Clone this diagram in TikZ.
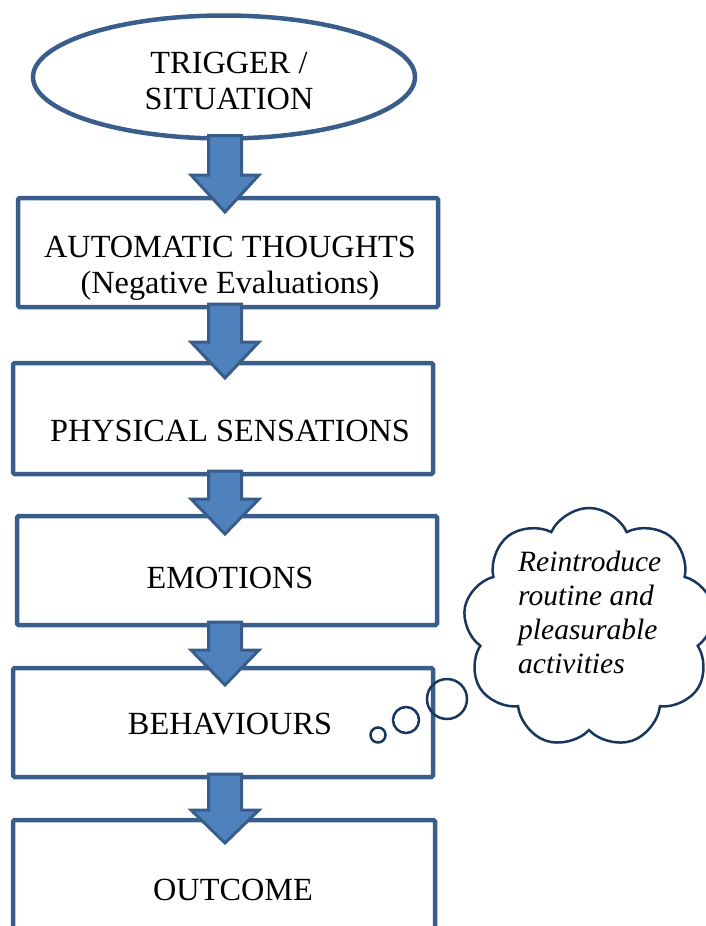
\documentclass[tikz,border=0pt]{standalone}
\usepackage{fontspec}
\setmainfont{Liberation Serif}
\usetikzlibrary{shapes.geometric,shapes.symbols,calc}
\definecolor{boxline}{RGB}{58,94,140}
\definecolor{arrfill}{RGB}{79,129,189}
\definecolor{arrline}{RGB}{56,93,138}
\definecolor{cloudline}{RGB}{23,55,94}
\newcommand\blockarrow[4]{% from node, to node, head-top offset above to.north, tip offset below to.north
  \draw[flowarrow]
    ($(axis |- #1.south)+(-16.5,-3)$) --
    ($(axis |- #2.north)+(-16.5,-#3)$) --
    ($(axis |- #2.north)+(-34,-#3)$) --
    ($(axis |- #2.north)+(0,#4)$) --
    ($(axis |- #2.north)+(34,-#3)$) --
    ($(axis |- #2.north)+(16.5,-#3)$) --
    ($(axis |- #1.south)+(16.5,-3)$) -- cycle;}
\begin{document}
\begin{tikzpicture}[x=1pt,y=-1pt,
  stepbox/.style={draw=boxline, line width=4.5pt, rounded corners=1.5pt, inner sep=0, outer sep=0},
  lbl/.style={font=\fontsize{32.3}{36}\selectfont, align=center, inner sep=0, outer sep=0},
  cloudtxt/.style={font=\fontsize{29.5}{34}\selectfont\itshape, align=left, inner sep=0},
  flowarrow/.style={fill=arrfill, draw=arrline, line width=3pt, line join=miter},
  bubble/.style={draw=cloudline, line width=2.5pt}]
\useasboundingbox (0,0) rectangle (705,926);
\coordinate (axis) at (225,0);

% ellipse
\node[ellipse, draw=boxline, line width=4.5pt, minimum width=382, minimum height=123, inner sep=0, outer sep=0] (trig) at (224,77) {};
% boxes
\node[stepbox, minimum width=420, minimum height=109] (auto) at (228,252.5) {};
\node[stepbox, minimum width=420, minimum height=111] (phys) at (223,418.5) {};
\node[stepbox, minimum width=420, minimum height=109] (emo) at (227,570.5) {};
\node[stepbox, minimum width=420, minimum height=109] (beh) at (223,722.5) {};
\node[stepbox, minimum width=422, minimum height=220] (out) at (224,930) {};

% block arrows
\blockarrow{trig}{auto}{23}{14}
\blockarrow{auto}{phys}{21}{15}
\blockarrow{phys}{emo}{17}{18}
\blockarrow{emo}{beh}{18}{17}
\blockarrow{beh}{out}{10}{23}

% labels
\node[lbl, anchor=base] (ttrig1) at (229,73) {TRIGGER /};
\node[lbl, anchor=base] (ttrig2) at (229,109) {SITUATION};
\node[lbl, anchor=base] (tauto1) at (230,257) {AUTOMATIC THOUGHTS};
\node[lbl, anchor=base] (tauto2) at (230,293) {(Negative Evaluations)};
\node[lbl, anchor=base] (tphys) at (230,441) {PHYSICAL SENSATIONS};
\node[lbl, anchor=base] (temo) at (230,588) {EMOTIONS};
\node[lbl, anchor=base] (tbeh) at (230,734) {BEHAVIOURS};
\node[lbl, anchor=base] (tout) at (233,900) {OUTCOME};

% thought cloud
\node[cloud, draw=cloudline, line width=2.5pt, cloud puffs=9, cloud puff arc=130, aspect=1.05,
      minimum width=252, minimum height=240, inner sep=0] (cl) at (589,628) {};
\node[cloudtxt, anchor=north west] (tcl) at (518,551) {Reintroduce\\routine and\\pleasurable\\activities};
\node[circle, bubble, minimum size=40, inner sep=0] (b1) at (447,699) {};
\node[circle, bubble, minimum size=26, inner sep=0] (b2) at (406,720) {};
\node[circle, bubble, minimum size=15, inner sep=0] (b3) at (378,735) {};
\end{tikzpicture}
\end{document}
